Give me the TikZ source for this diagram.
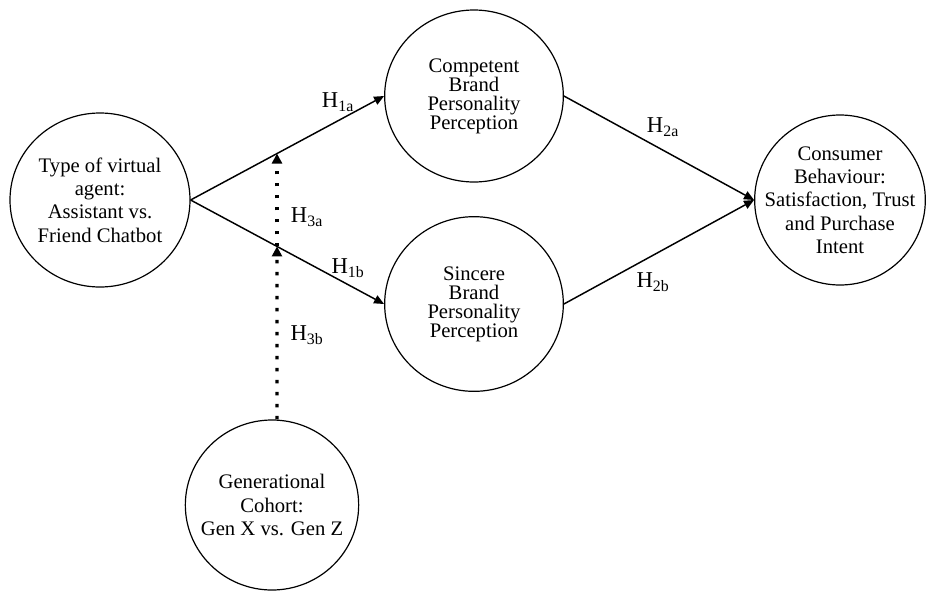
\documentclass[tikz,border=0pt]{standalone}
\usepackage{fontspec}
\setmainfont{Liberation Serif}
\usetikzlibrary{shapes.geometric,arrows.meta,intersections}
\tikzset{
	construct/.style = {draw, ellipse, line width=0.9pt, align=center, inner sep=-20pt},
	tight/.style = {font=\fontsize{15.5}{14.3}\selectfont},
	loose/.style = {font=\fontsize{15.5}{17.5}\selectfont},
	link/.style = {line width=1.1pt, -{Triangle[length=7.5pt,width=6.5pt]}},
	moder/.style = {line width=2.6pt, dash pattern=on 2.6pt off 6.4pt, -{Triangle[length=7.5pt,width=7.5pt]}},
	hyp/.style = {font=\fontsize{17}{19}\selectfont, inner sep=1pt}
}
\begin{document}
\begin{tikzpicture}[x=0.75pt, y=-0.75pt]
	\useasboundingbox (0,0) rectangle (926,590);
	
	% constructs
	\node [construct, loose, minimum width=135pt, minimum height=130.5pt] (agent) at (100,200)
		{Type of virtual\\agent:\\Assistant vs.\\Friend Chatbot};
	\node [construct, tight, minimum width=134pt, minimum height=129pt] (comp) at (474,96)
		{Competent\\Brand\\Personality\\Perception};
	\node [construct, tight, minimum width=134pt, minimum height=131pt] (sinc) at (474,304)
		{Sincere\\Brand\\Personality\\Perception};
	\node [construct, loose, minimum width=128pt, minimum height=127.5pt] (cons) at (840,200)
		{Consumer\\Behaviour:\\Satisfaction, Trust\\and Purchase\\Intent};
	\node [construct, loose, minimum width=130pt, minimum height=127.5pt] (coh) at (272,505)
		{Generational\\Cohort:\\Gen X vs. Gen Z};
	
	% direct paths
	\draw [link, name path=toComp] (agent.east) -- (comp.west);
	\draw [link, name path=toSinc] (agent.east) -- (sinc.west);
	\draw [link] (comp.east) -- (cons.west);
	\draw [link] (sinc.east) -- (cons.west);
	
	% moderation
	\coordinate (base) at ([xshift=3.75pt]coh.north);
	\path [name path=vert] (base) -- ++(0,-400);
	\path [name intersections={of=toComp and vert, by=ma}];
	\path [name intersections={of=toSinc and vert, by=mb}];
	\draw [moder] (base) -- (mb);
	\draw [moder] (mb) -- (ma);
	
	% hypotheses
	\node [hyp] (h1a) at (338,102) {H\textsubscript{1a}};
	\node [hyp] (h1b) at (348,268) {H\textsubscript{1b}};
	\node [hyp] (h2a) at (663,127) {H\textsubscript{2a}};
	\node [hyp] (h2b) at (653,282) {H\textsubscript{2b}};
	\node [hyp] (h3a) at (307,217) {H\textsubscript{3a}};
	\node [hyp] (h3b) at (307,335) {H\textsubscript{3b}};
\end{tikzpicture}
\end{document}
